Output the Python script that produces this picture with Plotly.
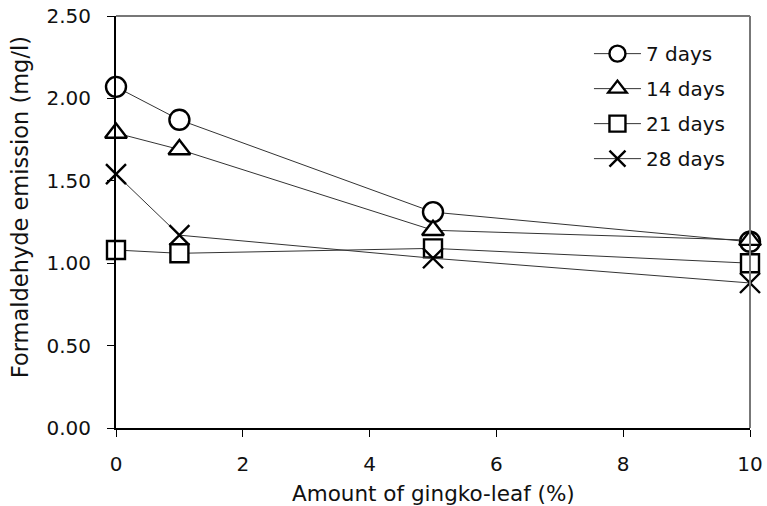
import plotly.graph_objects as go

amount = [0, 1, 5, 10]
days7 = [2.07, 1.87, 1.31, 1.13]
days14 = [1.79, 1.69, 1.20, 1.14]
days21 = [1.08, 1.06, 1.09, 1.00]
days28 = [1.54, 1.17, 1.03, 0.88]

series_names = ["7 days", "14 days", "21 days", "28 days"]
series_values = [days7, days14, days21, days28]
symbols = ["circle", "triangle-up", "square", "x-thin"]
sizes = [20, 19, 18, 20]

x_ticks = [0, 2, 4, 6, 8, 10]
y_ticks = [0, 0.5, 1.0, 1.5, 2.0, 2.5]
y_ticklabels = ["0.00", "0.50", "1.00", "1.50", "2.00", "2.50"]

x_title = "Amount of gingko-leaf (%)"
y_title = "Formaldehyde emission (mg/l)"

FONT = "DejaVu Sans, sans-serif"

fig = go.Figure()
for i, (name, vals, sym, sz) in enumerate(zip(series_names, series_values, symbols, sizes)):
    fig.add_trace(go.Scatter(
        x=amount, y=vals, name=name, mode="lines+markers",
        legendgroup=f"g{i}",
        line=dict(color="#333333", width=1),
        marker=dict(symbol=sym, size=sz, color="white",
                    line=dict(color="black", width=2.4)),
        cliponaxis=False,
    ))

fig.update_layout(
    width=767, height=506,
    margin=dict(l=116, r=17, t=16, b=78),
    paper_bgcolor="white", plot_bgcolor="white",
    font=dict(family=FONT, size=20, color="#111111"),
    showlegend=True,
    legend=dict(x=0.746, y=0.956, xanchor="left", yanchor="top",
                bgcolor="rgba(0,0,0,0)", font=dict(size=20, family=FONT),
                tracegroupgap=6, itemwidth=47),
    xaxis=dict(range=[0, 10], tickvals=x_ticks, showgrid=False, zeroline=False,
               automargin=False, ticklabeloverflow="allow",
               showline=True, linecolor="black", linewidth=2,
               ticks="outside", ticklen=7, tickcolor="black",
               tickfont=dict(size=20, family=FONT), ticklabelstandoff=10),
    yaxis=dict(range=[0, 2.5], tickvals=y_ticks, ticktext=y_ticklabels, showgrid=False, zeroline=False,
               automargin=False, ticklabeloverflow="allow",
               showline=True, linecolor="black", linewidth=2,
               ticks="outside", ticklen=7, tickcolor="black",
               tickfont=dict(size=20, family=FONT), ticklabelstandoff=12),
    annotations=[
        dict(text=x_title, xref="paper", yref="paper", x=0.5, y=0,
             xanchor="center", yanchor="middle", yshift=-65, showarrow=False,
             font=dict(size=21.5, family=FONT)),
        dict(text=y_title, xref="paper", yref="paper", x=0, y=0.536,
             xanchor="center", yanchor="middle", xshift=-96, textangle=-90,
             showarrow=False, font=dict(size=22.5, family=FONT)),
    ],
    shapes=[
        dict(type="line", xref="paper", yref="paper", x0=0, x1=1, y0=1, y1=1,
             line=dict(color="#777777", width=2)),
        dict(type="line", xref="paper", yref="paper", x0=1, x1=1, y0=0, y1=1,
             line=dict(color="#777777", width=2)),
    ],
)

fig.write_html(
    "out.html",
    config={"displayModeBar": False},
    post_script="document.body.style.margin='0';document.body.style.overflow='hidden';",
)
